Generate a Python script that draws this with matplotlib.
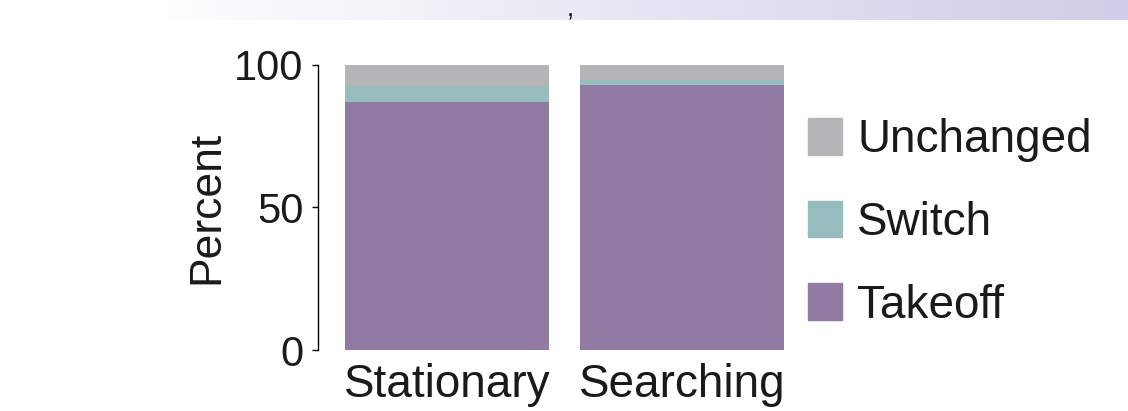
import numpy as np
import matplotlib
matplotlib.use("Agg")
import matplotlib.pyplot as plt
from matplotlib.patches import Patch
from matplotlib.colors import LinearSegmentedColormap

plt.rcParams['font.family'] = ['Liberation Sans', 'DejaVu Sans']

# datos: porcentaje por condicion
conditions = ["Stationary", "Searching"]
takeoff = [87.1, 93.1]
switch = [5.3, 1.6]
unchanged = [7.6, 5.3]

series_names = ["Takeoff", "Switch", "Unchanged"]
colors = {"Takeoff": "#917ba3", "Switch": "#96bcbd", "Unchanged": "#b5b5b7"}

W, H = 1128, 411
fig = plt.figure(figsize=(W / 100, H / 100), dpi=100)

# banda de degradado arriba
band = fig.add_axes([0, 1 - 20 / H, 1, 20 / H])
grad = np.linspace(0, 1, 512)
grad = np.clip((grad - 0.13) / 0.87, 0, 1)[None, :]
cmap = LinearSegmentedColormap.from_list("band", ["#ffffff", "#d0cde8"])
band.imshow(grad, aspect="auto", cmap=cmap, extent=[0, 1, 0, 1])
band.axis("off")
fig.text(570 / W, 1 - 10 / H, ",", fontsize=18, color="black", ha="center", va="center")

ax = fig.add_axes([318 / W, 61 / H, 466 / W, 285 / H])
x = np.arange(len(conditions))
width = 0.868
bottom = np.zeros(len(conditions))
for name, vals in zip(series_names, [takeoff, switch, unchanged]):
    ax.bar(x, vals, width, bottom=bottom, color=colors[name], label=name, linewidth=0)
    bottom += np.array(vals)

ax.set_xlim(-0.549, 1.434)
ax.set_ylim(0, 100)
ax.set_yticks([0, 50, 100])
ax.set_xticks(x)
ax.set_xticklabels(conditions, fontsize=33, color="#1a1a1a")
ax.tick_params(axis="x", length=0, pad=9)
ax.tick_params(axis="y", labelsize=30, length=4.3, width=1, pad=6, labelcolor="#1a1a1a")
ax.set_ylabel("Percent", fontsize=32, color="#1a1a1a")
ax.yaxis.set_label_coords(-0.195, 0.5)
for s in ["top", "right", "bottom"]:
    ax.spines[s].set_visible(False)
ax.spines["left"].set_linewidth(1)

handles = [Patch(color=colors[n]) for n in ["Unchanged", "Switch", "Takeoff"]]
leg = fig.legend(handles, ["Unchanged", "Switch", "Takeoff"], loc="upper left",
                 bbox_to_anchor=(808 / W, 1 - 118 / H), frameon=False, fontsize=33,
                 borderpad=0, borderaxespad=0, handlelength=0.745, handleheight=0.855,
                 handletextpad=0.33, labelspacing=0.84)
for t in leg.get_texts():
    t.set_color("#1a1a1a")

fig.savefig("out.png", dpi=100)
